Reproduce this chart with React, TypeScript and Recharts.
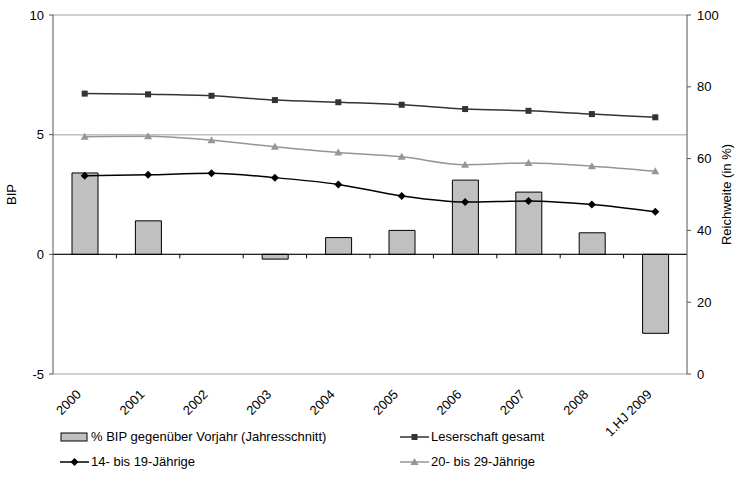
import React from 'react';
import { ComposedChart, Bar, Line, XAxis, YAxis, CartesianGrid, ReferenceLine } from 'recharts';

const years = ['2000', '2001', '2002', '2003', '2004', '2005', '2006', '2007', '2008', '1.HJ 2009'];
const bipChange = [3.4, 1.4, 0, -0.2, 0.7, 1.0, 3.1, 2.6, 0.9, -3.3];
const readersTotal = [78.1, 77.9, 77.5, 76.3, 75.7, 75.0, 73.8, 73.3, 72.4, 71.5];
const readers14to19 = [55.2, 55.5, 55.9, 54.7, 52.8, 49.6, 47.9, 48.2, 47.2, 45.2];
const readers20to29 = [66.1, 66.2, 65.1, 63.3, 61.7, 60.5, 58.3, 58.8, 57.9, 56.5];
const bipTicks = [-5, 0, 5, 10];
const reachTicks = [0, 20, 40, 60, 80, 100];

const FONT = "'Liberation Sans', Arial, sans-serif";

const data = years.map((year, i) => ({
  year,
  bip: bipChange[i],
  total: readersTotal[i],
  teens: readers14to19[i],
  twenties: readers20to29[i],
}));

const SquareDot = (p: any) => {
  if (p.cx == null || p.cy == null) return null;
  return <rect key={p.index} x={p.cx - 3} y={p.cy - 3} width={6} height={6} fill="#333333" />;
};

const DiamondDot = (p: any) => {
  if (p.cx == null || p.cy == null) return null;
  const { cx, cy } = p;
  return <polygon key={p.index} points={`${cx},${cy - 4} ${cx + 4},${cy} ${cx},${cy + 4} ${cx - 4},${cy}`} fill="#000" />;
};

const TriangleDot = (p: any) => {
  if (p.cx == null || p.cy == null) return null;
  const { cx, cy } = p;
  return <polygon key={p.index} points={`${cx},${cy - 4} ${cx + 4},${cy + 3} ${cx - 4},${cy + 3}`} fill="#969696" />;
};

const YearTick = (p: any) => {
  const { x, y, payload } = p;
  return (
    <g transform={`translate(${x - 6},${y + 10}) rotate(-45)`}>
      <text x={0} y={0} dy="0.35em" textAnchor="end" fontSize={13} fill="#000" fontFamily={FONT}>
        {payload.value}
      </text>
    </g>
  );
};

// zero line with the category separators hanging below it
const ZeroLine = (p: any) => {
  const { x1, y1, x2 } = p;
  const step = (x2 - x1) / years.length;
  return (
    <g>
      <line x1={x1} y1={y1} x2={x2} y2={y1} stroke="#000" strokeWidth={1} />
      {years.slice(1).map((_, i) => (
        <line key={i} x1={x1 + step * (i + 1)} y1={y1} x2={x1 + step * (i + 1)} y2={y1 + 4} stroke="#000" />
      ))}
    </g>
  );
};

const LegendItem = ({ left, top, icon, text }: any) => (
  <div style={{ position: 'absolute', left, top, display: 'flex', alignItems: 'center', fontSize: 13, whiteSpace: 'nowrap' }}>
    <svg width={29} height={12} style={{ marginRight: 2 }}>
      {icon}
    </svg>
    {text}
  </div>
);

const App = () => {
  return (
    <div style={{ position: 'absolute', left: 0, top: 0, width: 741, height: 502, fontFamily: FONT, background: '#fff' }}>
      <ComposedChart
        width={741}
        height={502}
        data={data}
        margin={{ top: 15, right: 0, bottom: 0, left: 0 }}
        barCategoryGap={0}
        style={{ fontFamily: FONT }}
      >
        <CartesianGrid yAxisId="bip" vertical={false} stroke="#C0C0C0" strokeWidth={1.5} />
        <XAxis dataKey="year" axisLine={false} tickLine={false} height={128} tick={<YearTick />} interval={0} />
        <YAxis
          yAxisId="bip"
          domain={[-5, 10]}
          ticks={bipTicks}
          width={53}
          stroke="#555"
          tickSize={4}
          tickMargin={5}
          tick={{ fontSize: 13, fill: '#000' }}
          label={({ viewBox }: any) => (
            <text
              x={viewBox.x + 16}
              y={viewBox.y + viewBox.height / 2}
              transform={`rotate(-90, ${viewBox.x + 16}, ${viewBox.y + viewBox.height / 2})`}
              textAnchor="middle"
              fontSize={13}
              fill="#000"
            >
              BIP
            </text>
          )}
        />
        <YAxis
          yAxisId="reach"
          orientation="right"
          domain={[0, 100]}
          ticks={reachTicks}
          width={54}
          stroke="#555"
          tickSize={4}
          tickMargin={6}
          tick={{ fontSize: 13, fill: '#000' }}
          label={({ viewBox }: any) => (
            <text
              x={viewBox.x + 44}
              y={viewBox.y + viewBox.height / 2}
              transform={`rotate(-90, ${viewBox.x + 44}, ${viewBox.y + viewBox.height / 2})`}
              textAnchor="middle"
              fontSize={13}
              fill="#000"
            >
              Reichweite (in %)
            </text>
          )}
        />
        <Bar yAxisId="bip" dataKey="bip" barSize={26} fill="#C0C0C0" stroke="#000" strokeWidth={1} isAnimationActive={false} />
        <ReferenceLine yAxisId="bip" y={0} shape={(p: any) => <ZeroLine {...p} />} />
        <Line yAxisId="reach" type="monotone" dataKey="total" stroke="#333333" strokeWidth={1.5} dot={(p: any) => <SquareDot key={p.index} {...p} />} isAnimationActive={false} />
        <Line yAxisId="reach" type="monotone" dataKey="twenties" stroke="#969696" strokeWidth={1.5} dot={(p: any) => <TriangleDot key={p.index} {...p} />} isAnimationActive={false} />
        <Line yAxisId="reach" type="monotone" dataKey="teens" stroke="#000" strokeWidth={1.5} dot={(p: any) => <DiamondDot key={p.index} {...p} />} isAnimationActive={false} />
      </ComposedChart>
      <LegendItem
        left={60}
        top={429}
        icon={<rect x={1} y={2} width={26} height={8} fill="#C0C0C0" stroke="#000" />}
        text="% BIP gegenüber Vorjahr (Jahresschnitt)"
      />
      <LegendItem
        left={400}
        top={429}
        icon={<g><line x1={0} y1={6} x2={29} y2={6} stroke="#333" strokeWidth={1.5} /><rect x={11.5} y={3} width={6} height={6} fill="#333" /></g>}
        text="Leserschaft gesamt"
      />
      <LegendItem
        left={60}
        top={454}
        icon={<g><line x1={0} y1={6} x2={29} y2={6} stroke="#000" strokeWidth={1.5} /><polygon points="14.5,2 18.5,6 14.5,10 10.5,6" fill="#000" /></g>}
        text="14- bis 19-Jährige"
      />
      <LegendItem
        left={400}
        top={454}
        icon={<g><line x1={0} y1={6} x2={29} y2={6} stroke="#969696" strokeWidth={1.5} /><polygon points="14.5,2 18.5,9 10.5,9" fill="#969696" /></g>}
        text="20- bis 29-Jährige"
      />
    </div>
  );
};

export default App;
